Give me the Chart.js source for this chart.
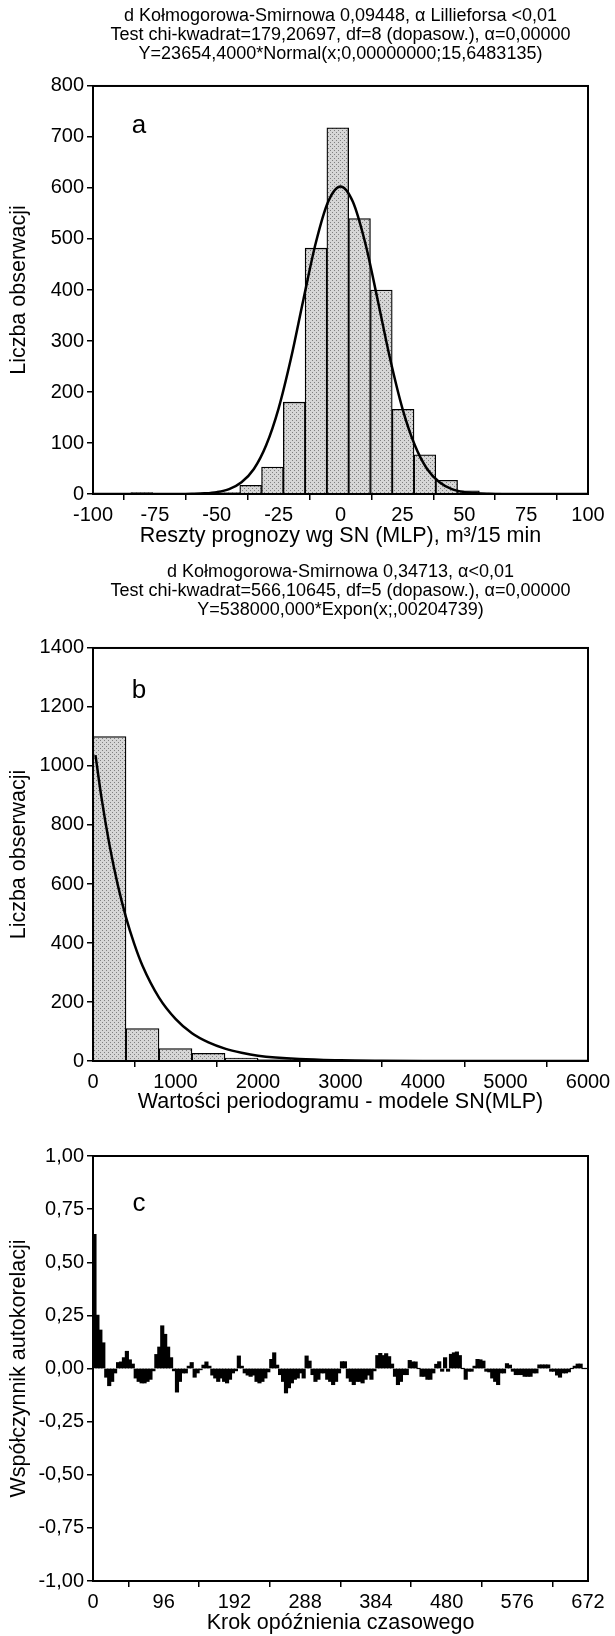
<!DOCTYPE html>
<html>
<head>
<meta charset="utf-8">
<script src="https://cdn.jsdelivr.net/npm/chart.js@4.4.1/dist/chart.umd.min.js"></script>
<style>
  html, body { margin: 0; padding: 0; background: #fff; }
  body { width: 615px; height: 1636px; position: relative; overflow: hidden; }
  canvas { position: absolute; left: 0; }
  #chartA { top: 0; }
  #chartB { top: 560px; }
  #chartC { top: 1120px; }
</style>
</head>
<body>
<canvas id="chartA" width="615" height="560"></canvas>
<canvas id="chartB" width="615" height="560"></canvas>
<canvas id="chartC" width="615" height="516"></canvas>
<script>
// (a) histogram of residuals with fitted normal curve
const residBins = [-97.9, -89.1, -80.3, -71.5, -62.7, -53.9, -45.1, -36.3, -27.5, -18.7, -9.9, -1.1,
                   7.7, 16.5, 25.3, 34.1, 42.9, 51.7, 60.5, 69.3, 78.1, 86.9, 95.7];
const residCounts = [0, 1, 3, 1, 1, 1, 3, 17, 53, 180, 482, 718,
                     540, 400, 166, 77, 27, 6, 2, 1, 0, 0, 0];
const normalX = [-100, -95, -90, -85, -80, -75, -70, -65, -60, -55, -50, -45, -40, -35, -30, -25, -20,
                 -15, -10, -5, 0, 5, 10, 15, 20, 25, 30, 35, 40, 45, 50, 55, 60, 65, 70, 75, 80, 85, 90, 95, 100];
const normalY = [0, 0, 0, 0, 0, 0, 0, 0, 0.4, 1.3, 3.7, 9.6, 23, 49, 96, 168, 266,
                 381, 492, 573, 603, 573, 492, 381, 266, 168, 96, 49, 23, 9.6, 3.7, 1.3, 0.4, 0, 0, 0, 0, 0, 0, 0, 0];
const titleA = [
  'd Kołmogorowa-Smirnowa 0,09448, α Lillieforsa <0,01',
  'Test chi-kwadrat=179,20697, df=8 (dopasow.), α=0,00000',
  'Y=23654,4000*Normal(x;0,00000000;15,6483135)'
];

// (b) histogram of periodogram values with fitted exponential curve
const periodBins = [200, 600, 1000, 1400, 1800, 2200, 2600, 3000, 3400, 3800, 4200, 4600, 5000, 5400, 5800];
const periodCounts = [1100, 110, 42, 26, 10, 5, 3, 2, 2, 1, 1, 1, 1, 0, 0];
const exponX = [30, 100, 200, 300, 400, 500, 600, 800, 1000, 1200, 1400, 1600, 1800, 2000, 2500, 3000, 3500, 4000, 5000, 6000];
const exponY = [1037, 898, 732, 597, 487, 397, 323, 215, 143, 94, 63, 42, 28, 18, 6.6, 2.4, 0.9, 0.3, 0, 0];
const titleB = [
  'd Kołmogorowa-Smirnowa 0,34713, α<0,01',
  'Test chi-kwadrat=566,10645, df=5 (dopasow.), α=0,00000',
  'Y=538000,000*Expon(x;,00204739)'
];

// (c) autocorrelation, one value per block of 4 lags
const lagStep = 4;
const acfValues = [
  0.63, 0.25, 0.18, 0.12, -0.04, -0.08, -0.06, -0.02, 0.027, 0.03,
  0.05, 0.08, 0.04, 0.02, -0.044, -0.06, -0.067, -0.067, -0.06, -0.05,
  -0.01, 0.065, 0.10, 0.20, 0.16, 0.10, 0.05, -0.01, -0.11, -0.06,
  -0.02, -0.02, 0.01, 0.027, -0.04, -0.02, -0.005, 0.015, 0.03, 0.01,
  -0.03, -0.044, -0.06, -0.044, -0.06, -0.067, -0.05, -0.02, -0.01, 0.058,
  0.01, -0.02, -0.03, -0.036, -0.03, -0.06, -0.067, -0.06, -0.044, -0.015,
  0.042, 0.073, 0.015, -0.028, -0.06, -0.114, -0.09, -0.067, -0.05, -0.044,
  -0.02, -0.044, 0.058, 0.034, -0.028, -0.06, -0.05, -0.02, -0.02, -0.05,
  -0.06, -0.075, -0.06, -0.02, 0.031, 0.031, -0.044, -0.06, -0.075, -0.06,
  -0.06, -0.067, -0.05, -0.03, -0.05, -0.01, 0.06, 0.07, 0.06, 0.069,
  0.055, 0.02, -0.036, -0.075, -0.06, -0.028, -0.028, 0.037, 0.03, 0.03,
  0.0, -0.036, -0.036, -0.05, -0.05, -0.02, 0.019, 0.031, -0.012, 0.05,
  -0.012, 0.066, 0.073, 0.077, 0.06, 0.0, -0.05, -0.012, -0.012, 0.01,
  0.042, 0.04, 0.034, -0.012, -0.015, -0.044, -0.06, -0.075, -0.02, -0.02,
  0.022, 0.015, -0.012, -0.028, -0.028, -0.028, -0.036, -0.036, -0.036, -0.02,
  -0.02, 0.016, 0.016, 0.016, 0.016, -0.012, -0.012, -0.03, -0.04, -0.02,
  -0.02, -0.015, 0.0, 0.01, 0.02, 0.02, 0, 0
];
const acfLags = acfValues.map((v, i) => i * lagStep + lagStep / 2);

const FONT = '"Liberation Sans", Arial, sans-serif';

// light grey stippled fill like the scanned histogram bars
function stipple() {
  const c = document.createElement('canvas');
  c.width = 4; c.height = 4;
  const g = c.getContext('2d');
  g.fillStyle = '#d6d6d6';
  g.fillRect(0, 0, 4, 4);
  g.fillStyle = '#808080';
  g.fillRect(0, 0, 1, 1);
  g.fillRect(2, 2, 1, 1);
  return g.createPattern(c, 'repeat');
}

// box around the plot area plus the panel letter
const framePlugin = {
  id: 'frame',
  afterDatasetsDraw(chart, args, opts) {
    const { ctx, chartArea: a } = chart;
    ctx.save();
    ctx.strokeStyle = '#000';
    ctx.lineWidth = 2;
    ctx.strokeRect(a.left, a.top, a.right - a.left, a.bottom - a.top);
    ctx.font = '26px ' + FONT;
    ctx.fillStyle = '#000';
    ctx.textAlign = 'center';
    ctx.textBaseline = 'middle';
    ctx.fillText(opts.letter, a.left + opts.dx, a.top + opts.dy);
    ctx.restore();
  }
};

function axis(opts) {
  return {
    type: 'linear',
    min: opts.min,
    max: opts.max,
    offset: false,
    ticks: {
      stepSize: opts.step,
      autoSkip: false,
      maxRotation: 0,
      color: '#000',
      padding: 3,
      font: { family: FONT, size: 20 },
      callback: opts.fmt || (v => String(v))
    },
    grid: { drawOnChartArea: false, tickLength: 6, color: '#000', lineWidth: 1.5 },
    border: { display: true, color: '#000', width: 2 },
    title: {
      display: true,
      text: opts.title,
      color: '#000',
      font: { family: FONT, size: 21.5, lineHeight: 1.2 },
      padding: opts.titlePad
    },
    afterFit: opts.fit
  };
}

function baseOptions(cfg) {
  return {
    responsive: false,
    animation: false,
    layout: { padding: { top: cfg.padTop || 0, left: 0, right: 27, bottom: 0 } },
    plugins: {
      legend: { display: false },
      tooltip: { enabled: false },
      title: cfg.title ? {
        display: true,
        fullSize: false,
        text: cfg.title,
        color: '#000',
        font: { family: FONT, size: 18, weight: 'normal', lineHeight: 1.055 },
        padding: cfg.titlePad
      } : { display: false },
      frame: cfg.frame
    },
    scales: {
      x: axis(cfg.x),
      y: axis(cfg.y)
    }
  };
}

// chart a
new Chart(document.getElementById('chartA'), {
  type: 'bar',
  data: {
    datasets: [
      {
        type: 'line',
        data: normalX.map((x, i) => ({ x: x, y: normalY[i] })),
        borderColor: '#000',
        borderWidth: 2.5,
        pointRadius: 0,
        cubicInterpolationMode: 'monotone',
        order: 0
      },
      {
        data: residBins.map((x, i) => ({ x: x, y: residCounts[i] })),
        backgroundColor: stipple(),
        borderColor: '#000',
        borderWidth: 1.3,
        borderSkipped: 'bottom',
        barPercentage: 1,
        categoryPercentage: 1,
        order: 1
      }
    ]
  },
  options: baseOptions({
    title: titleA,
    titlePad: { top: 6.5, bottom: 22.5 },
    frame: { letter: 'a', dx: 46, dy: 40 },
    x: { min: -100, max: 100, step: 25, title: 'Reszty prognozy wg SN (MLP), m³/15 min',
         titlePad: { top: 0, bottom: 11 }, fit: s => { s.height = 66; } },
    y: { min: 0, max: 800, step: 100, title: 'Liczba obserwacji',
         titlePad: { top: 6, bottom: 0 }, fit: s => { s.width = 93; } }
  }),
  plugins: [framePlugin]
});

// chart b
new Chart(document.getElementById('chartB'), {
  type: 'bar',
  data: {
    datasets: [
      {
        type: 'line',
        data: exponX.map((x, i) => ({ x: x, y: exponY[i] })),
        borderColor: '#000',
        borderWidth: 2.5,
        pointRadius: 0,
        cubicInterpolationMode: 'monotone',
        order: 0
      },
      {
        data: periodBins.map((x, i) => ({ x: x, y: periodCounts[i] })),
        backgroundColor: stipple(),
        borderColor: '#000',
        borderWidth: 1.3,
        borderSkipped: 'bottom',
        barPercentage: 1,
        categoryPercentage: 1,
        order: 1
      }
    ]
  },
  options: baseOptions({
    title: titleB,
    titlePad: { top: 2.5, bottom: 28.5 },
    frame: { letter: 'b', dx: 46, dy: 43 },
    x: { min: 0, max: 6000, step: 1000, title: 'Wartości periodogramu - modele SN(MLP)',
         titlePad: { top: 0, bottom: 5 }, fit: s => { s.height = 59; } },
    y: { min: 0, max: 1400, step: 200, title: 'Liczba obserwacji',
         titlePad: { top: 6, bottom: 0 }, fit: s => { s.width = 93; } }
  }),
  plugins: [framePlugin]
});

// chart c
new Chart(document.getElementById('chartC'), {
  type: 'bar',
  data: {
    datasets: [{
      data: acfLags.map((x, i) => ({ x: x, y: acfValues[i] })),
      backgroundColor: '#000',
      borderWidth: 0,
      inflateAmount: 0.6,
      barPercentage: 1,
      categoryPercentage: 1
    }]
  },
  options: baseOptions({
    padTop: 36,
    frame: { letter: 'c', dx: 46, dy: 48 },
    x: { min: 0, max: 672, step: 96, title: 'Krok opóźnienia czasowego',
         titlePad: { top: 0, bottom: 0 }, fit: s => { s.height = 55; } },
    y: { min: -1, max: 1, step: 0.25, title: 'Współczynnik autokorelacji',
         fmt: v => v.toFixed(2).replace('.', ','),
         titlePad: { top: 6, bottom: 0 }, fit: s => { s.width = 93; } }
  }),
  plugins: [framePlugin]
});
</script>
</body>
</html>
